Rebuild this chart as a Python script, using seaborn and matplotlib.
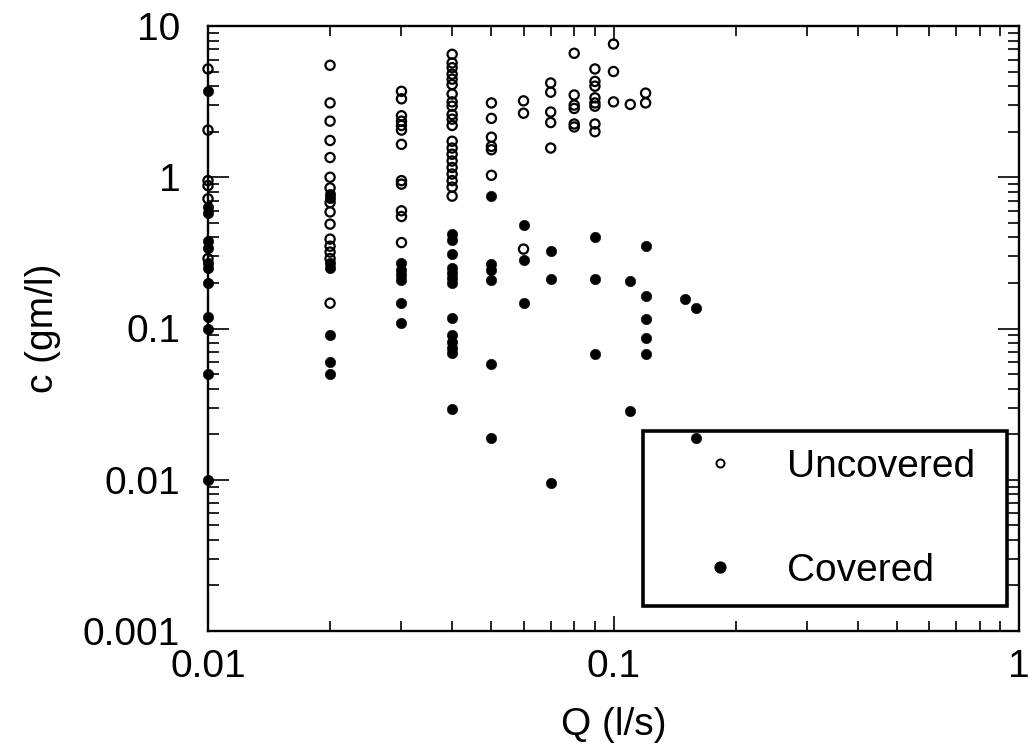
import numpy as np
import pandas as pd
import matplotlib
matplotlib.use("Agg")
import matplotlib.pyplot as plt
import seaborn as sns
from matplotlib.ticker import LogLocator, NullFormatter, FuncFormatter
from matplotlib.lines import Line2D

sns.set_style("ticks")
plt.rcParams["font.family"] = ["Liberation Sans", "DejaVu Sans"]
plt.rcParams["text.color"] = "black"
plt.rcParams["axes.labelcolor"] = "black"

# flow rates (l/s) and concentrations (gm/l)
unc_flow = [0.01, 0.02, 0.03, 0.04, 0.05, 0.06, 0.07, 0.08, 0.09, 0.1, 0.11, 0.12]
unc_conc = [
    [5.2, 2.05, 0.95, 0.88, 0.72, 0.29],
    [5.5, 3.1, 2.35, 1.75, 1.35, 1.0, 0.85, 0.68, 0.59, 0.49, 0.39, 0.35, 0.32, 0.29, 0.147],
    [3.7, 3.3, 2.55, 2.35, 2.2, 2.05, 1.65, 0.95, 0.9, 0.6, 0.55, 0.37],
    [6.5, 5.7, 5.3, 4.8, 4.45, 4.1, 3.55, 3.15, 2.95, 2.6, 2.42, 2.2, 1.73, 1.56, 1.42,
     1.28, 1.16, 1.05, 0.95, 0.86, 0.75],
    [3.1, 2.45, 1.84, 1.6, 1.52, 1.03],
    [3.2, 2.65, 0.335],
    [4.2, 3.65, 2.7, 2.3, 1.56],
    [6.6, 3.5, 3.0, 2.85, 2.25, 2.15],
    [5.2, 4.3, 4.0, 3.35, 3.1, 2.95, 2.25, 2.0],
    [7.6, 5.0, 3.15],
    [3.03],
    [3.6, 3.1],
]

cov_flow = [0.01, 0.02, 0.03, 0.04, 0.05, 0.06, 0.07, 0.09, 0.11, 0.12, 0.15, 0.16]
cov_conc = [
    [3.7, 0.64, 0.58, 0.38, 0.34, 0.27, 0.25, 0.2, 0.12, 0.1, 0.05, 0.01],
    [0.78, 0.73, 0.27, 0.25, 0.09, 0.06, 0.05],
    [0.27, 0.245, 0.225, 0.21, 0.147, 0.108],
    [0.42, 0.385, 0.31, 0.25, 0.232, 0.215, 0.2, 0.118, 0.091, 0.082, 0.074, 0.069, 0.0294],
    [0.757, 0.265, 0.245, 0.208, 0.058, 0.019],
    [0.48, 0.285, 0.147],
    [0.324, 0.213, 0.0095],
    [0.4, 0.213, 0.068],
    [0.207, 0.0286],
    [0.35, 0.164, 0.116, 0.087, 0.068],
    [0.156],
    [0.136, 0.019],
]


def to_frame(flows, concs, label):
    rows = []
    for q, cs in zip(flows, concs):
        for c in cs:
            rows.append({"Q": q, "c": c, "cover": label})
    return pd.DataFrame(rows)


unc = to_frame(unc_flow, unc_conc, "Uncovered")
cov = to_frame(cov_flow, cov_conc, "Covered")

fig = plt.figure(figsize=(10.29, 7.49), dpi=100)
ax = fig.add_axes([208 / 1029, 1 - 631 / 749, 811 / 1029, 605 / 749])

sns.scatterplot(data=unc, x="Q", y="c", ax=ax, s=44, marker="o",
                facecolor="none", edgecolor="black", linewidth=1.6, legend=False,
                zorder=3, clip_on=False)
sns.scatterplot(data=cov, x="Q", y="c", ax=ax, s=56, marker="o",
                color="black", edgecolor="black", linewidth=0.4, legend=False,
                zorder=3, clip_on=False)

ax.set_xscale("log")
ax.set_yscale("log")
ax.set_xlim(0.01, 1)
ax.set_ylim(0.001, 10)

fmt = FuncFormatter(lambda v, _: f"{v:g}")
for axis in (ax.xaxis, ax.yaxis):
    axis.set_major_locator(LogLocator(base=10))
    axis.set_minor_locator(LogLocator(base=10, subs=np.arange(2, 10)))
    axis.set_major_formatter(fmt)
    axis.set_minor_formatter(NullFormatter())

ax.tick_params(which="both", direction="in", top=True, right=True, width=1.2,
               labelsize=28, colors="black")
ax.tick_params(axis="x", which="major", length=11, pad=13)
ax.tick_params(axis="x", which="minor", length=7)
ax.tick_params(axis="y", which="major", length=15, pad=20)
ax.tick_params(axis="y", which="minor", length=8)
for sp in ax.spines.values():
    sp.set_linewidth(1.7)
    sp.set_color("black")

ax.set_xlabel("Q (l/s)", fontsize=28, labelpad=16, color="black")
ax.set_ylabel("c (gm/l)", fontsize=28, labelpad=16, color="black")

handles = [
    Line2D([], [], ls="none", marker="o", mfc="white", mec="black", mew=1.4, ms=5.8,
           label="Uncovered"),
    Line2D([], [], ls="none", marker="o", mfc="black", mec="black", ms=7.8,
           label="Covered"),
]
leg = ax.legend(handles=handles, loc="lower left", bbox_to_anchor=(0.536, 0.041, 0.449, 0.295),
                mode="expand", fontsize=28, frameon=True, fancybox=False, edgecolor="black",
                framealpha=1, borderpad=0.45, labelspacing=1.75, handlelength=3.1,
                handletextpad=0.15, borderaxespad=0)
leg.get_frame().set_linewidth(2.6)
leg.set_zorder(1)
for t in leg.get_texts():
    t.set_color("black")

fig.savefig("out.png", dpi=100)
